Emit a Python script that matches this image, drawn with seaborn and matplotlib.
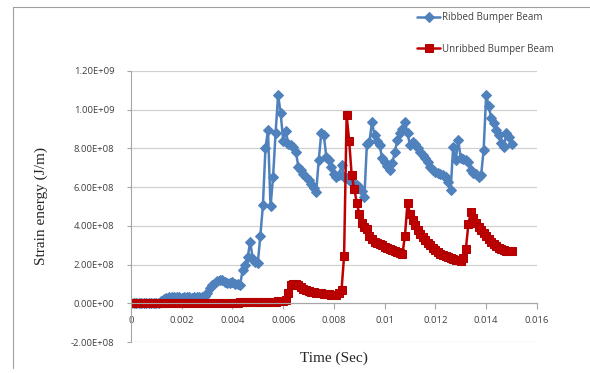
import matplotlib
matplotlib.use("Agg")
import matplotlib.pyplot as plt
import numpy as np
import pandas as pd
import seaborn as sns
from matplotlib.lines import Line2D
from matplotlib.ticker import FuncFormatter

OUTPUT_FIGURE_PATH = "out.png"

# time samples (s), one every 0.1 ms
TIME = np.round(np.linspace(0.0, 0.015, 151), 5)

# strain energy, in units of 1e8 J/m
RIBBED = [
    0.0, 0.0, 0.0, 0.0, 0.0, 0.0, 0.0, 0.0, 0.0, 0.0, 0.0, 0.0,
    0.1, 0.2, 0.28,
    0.3, 0.3, 0.32, 0.3, 0.3, 0.28, 0.3, 0.3, 0.3, 0.28, 0.3, 0.3, 0.3, 0.32,
    0.4, 0.55, 0.8, 0.95, 1.05, 1.15, 1.2, 1.2, 1.1, 1.05,
    1.05, 1.1, 1.0, 0.98, 0.95, 1.7, 2.0, 2.4, 3.17, 2.3, 2.13,
    2.1, 3.5, 5.06, 8.0, 8.94, 5.0, 6.5, 8.8, 10.75, 9.8,
    8.4, 8.9, 8.25, 8.15, 8.08, 7.82, 7.04, 6.87, 6.7, 6.53,
    6.35, 6.18, 5.93, 5.75, 7.39, 8.77, 8.68, 7.56, 7.39, 7.04,
    6.7, 6.53, 6.6, 7.13, 6.53, 6.45, 6.36, 6.25, 6.18, 6.1,
    6.01, 5.8, 5.49, 8.25, 8.34, 9.37, 8.68, 8.4, 8.17, 7.48,
    7.3, 7.1, 6.9, 7.22, 7.82, 8.42, 8.77, 9.0, 9.37, 8.77,
    8.17, 8.34, 8.25, 8.0, 7.8, 7.65, 7.5, 7.3, 7.04, 6.9,
    6.79, 6.75, 6.7, 6.6, 6.53, 6.27, 5.84, 8.08, 7.39, 8.42,
    7.48, 7.45, 7.39, 7.3, 6.87, 6.75, 6.7, 6.53, 6.6, 7.91,
    10.75, 10.2, 9.55, 9.3, 8.94, 8.68, 8.3, 8.08, 8.77, 8.6,
    8.25,
]

UNRIBBED = [
    0.0, 0.0, 0.0, 0.0, 0.0, 0.0, 0.0, 0.0, 0.0, 0.0,
    0.0, 0.0, 0.0, 0.0, 0.0, 0.0, 0.0, 0.0, 0.0, 0.0,
    0.0, 0.0, 0.0, 0.0, 0.0, 0.0, 0.0, 0.0, 0.0, 0.0,
    0.0, 0.0, 0.0, 0.0, 0.0,
    0.02, 0.02, 0.03, 0.03, 0.03, 0.04, 0.04, 0.04, 0.05, 0.05,
    0.05, 0.06, 0.06, 0.06, 0.07, 0.07, 0.07, 0.08, 0.08, 0.08,
    0.09, 0.09, 0.09, 0.1, 0.1, 0.1,
    0.15, 0.55, 0.95, 1.0, 1.02, 0.95, 0.85, 0.76, 0.7,
    0.65, 0.6, 0.58, 0.55, 0.54, 0.52, 0.5, 0.48, 0.47, 0.45,
    0.43, 0.45, 0.55, 0.7, 2.45, 9.7, 8.4, 6.6, 5.9, 5.2,
    4.6, 4.15, 3.95, 3.85, 3.5, 3.3, 3.15, 3.1, 3.05, 3.0,
    2.9, 2.85, 2.8, 2.75, 2.7, 2.65, 2.6, 2.55, 3.5, 5.2,
    4.6, 4.3, 4.05, 3.8, 3.6, 3.4, 3.25, 3.1, 3.0, 2.85,
    2.75, 2.65, 2.57, 2.5, 2.45, 2.4, 2.35, 2.3, 2.25, 2.22,
    2.2, 2.35, 2.8, 4.1, 4.7, 4.4, 4.15, 3.95, 3.8, 3.65,
    3.45, 3.3, 3.15, 3.05, 2.95, 2.85, 2.8, 2.75, 2.72, 2.7,
    2.7,
]

SERIES_NAMES = ["Ribbed Bumper Beam", "Unribbed Bumper Beam"]
COLORS = ["#4F81BD", "#C00000"]
X_TICKS = [0, 0.002, 0.004, 0.006, 0.008, 0.01, 0.012, 0.014, 0.016]
Y_TICKS = [-2e8, 0, 2e8, 4e8, 6e8, 8e8, 1e9, 1.2e9]


def main():
    sns.set_style("white")
    plt.rcParams["font.family"] = ["Open Sans", "DejaVu Sans"]

    df = pd.concat([
        pd.DataFrame({"time": TIME, "energy": np.array(RIBBED) * 1e8, "beam": SERIES_NAMES[0]}),
        pd.DataFrame({"time": TIME, "energy": np.array(UNRIBBED) * 1e8, "beam": SERIES_NAMES[1]}),
    ])

    fig = plt.figure(figsize=(5.9, 3.73), dpi=100)
    ax = fig.add_axes([0.222, 0.083, 0.688, 0.727])

    sns.lineplot(data=df[df["beam"] == SERIES_NAMES[0]], x="time", y="energy", ax=ax,
                 color=COLORS[0], marker="D", markersize=5.2, markeredgecolor=COLORS[0],
                 linewidth=1.8, label=SERIES_NAMES[0], legend=False)
    sns.lineplot(data=df[df["beam"] == SERIES_NAMES[1]], x="time", y="energy", ax=ax,
                 color=COLORS[1], marker="s", markersize=5.5, markeredgecolor="#B00000",
                 linewidth=1.8, label=SERIES_NAMES[1], legend=False)

    ax.set_xlim(0, 0.016)
    ax.set_ylim(-2e8, 1.2e9)
    ax.set_xticks(X_TICKS)
    ax.set_yticks(Y_TICKS)
    ax.xaxis.set_major_formatter(FuncFormatter(lambda v, _: "%g" % v))
    ax.yaxis.set_major_formatter(FuncFormatter(lambda v, _: "%.2E" % v))
    ax.tick_params(axis="both", labelsize=6.8, labelcolor="#404040", color="#A6A6A6")
    ax.tick_params(axis="y", length=3, width=0.8, pad=9, left=True)
    ax.tick_params(axis="x", length=4, width=0.8, pad=5, bottom=True, direction="out")

    ax.grid(axis="y", color="#D0D0D0", linewidth=0.9)
    ax.grid(axis="x", visible=False)
    for side in ["top", "right"]:
        ax.spines[side].set_visible(False)
    ax.spines["left"].set_color("#A6A6A6")
    ax.spines["left"].set_linewidth(0.8)
    ax.spines["bottom"].set_position(("data", 0))
    ax.spines["bottom"].set_color("#A6A6A6")
    ax.spines["bottom"].set_linewidth(0.8)

    ax.set_xlabel("Time (Sec)", family=["Liberation Serif"], fontsize=11, labelpad=0)
    ax.xaxis.set_label_coords(0.5, -0.035)
    ax.set_ylabel("Strain energy (J/m)", family=["Liberation Serif"], fontsize=11)
    ax.yaxis.set_label_coords(-0.205, 0.5)

    handles, labels = ax.get_legend_handles_labels()
    fig.legend(handles, labels, loc="upper left", bbox_to_anchor=(0.695, 0.985),
               frameon=False, fontsize=7, labelspacing=2.1, handlelength=2.4,
               handletextpad=0.2, borderpad=0.2, labelcolor="#404040")

    # outer frame remnants
    fig.add_artist(Line2D([0.022, 1.0], [0.981, 0.981], color="#A0A0A0", linewidth=0.8))
    fig.add_artist(Line2D([0.022, 0.022], [0.013, 0.981], color="#A0A0A0", linewidth=0.8))

    fig.savefig(OUTPUT_FIGURE_PATH, dpi=100)
    print(f"Saved figure to {OUTPUT_FIGURE_PATH}")


if __name__ == "__main__":
    main()
